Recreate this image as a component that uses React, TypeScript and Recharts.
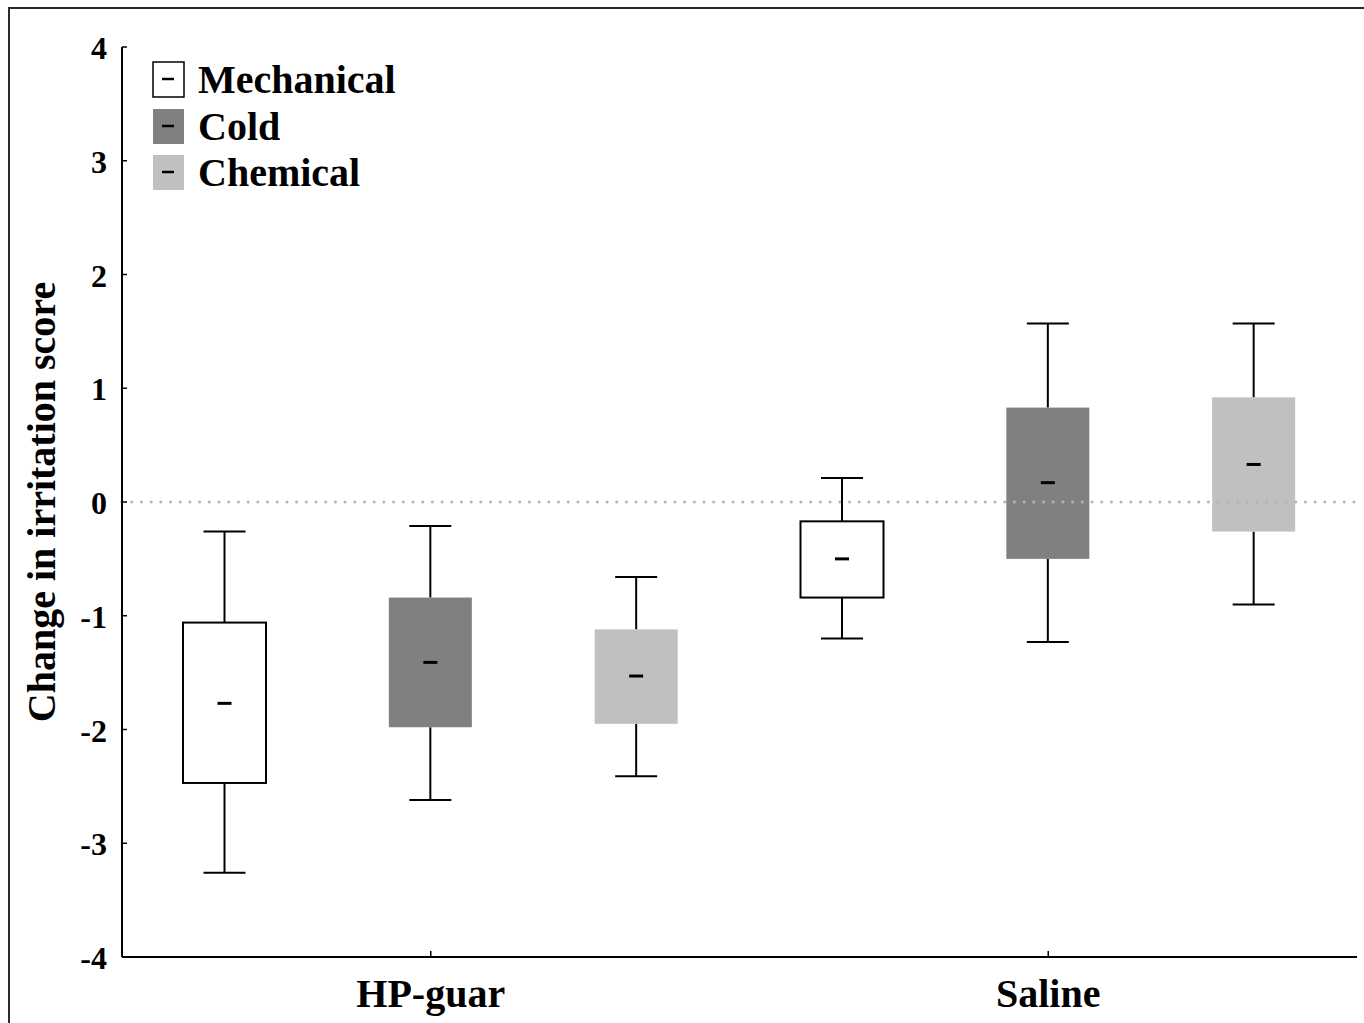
import { ComposedChart, Bar, XAxis, YAxis, ReferenceLine, Legend } from 'recharts'

const groups = ['HP-guar', 'Saline']
const stimuli = ['Mechanical', 'Cold', 'Chemical']
const fills = ['#ffffff', '#808080', '#c0c0c0']
const yTicks = [-4, -3, -2, -1, 0, 1, 2, 3, 4]

// one entry per box, HP-guar first then Saline, Mechanical/Cold/Chemical
const whiskerLow = [-3.26, -2.62, -2.41, -1.2, -1.23, -0.9]
const q1 = [-2.47, -1.98, -1.95, -0.84, -0.5, -0.26]
const mean = [-1.77, -1.41, -1.53, -0.5, 0.17, 0.33]
const q3 = [-1.06, -0.84, -1.12, -0.17, 0.83, 0.92]
const whiskerHigh = [-0.26, -0.21, -0.66, 0.21, 1.57, 1.57]

const FONT = '"Liberation Serif", "Times New Roman", serif'

const data = groups.flatMap((g, gi) =>
  stimuli.map((s, si) => {
    const i = gi * stimuli.length + si
    return {
      key: `${g}|${s}`,
      group: g,
      stim: si,
      box: [q1[i], q3[i]],
      lo: whiskerLow[i],
      hi: whiskerHigh[i],
      q1: q1[i],
      q3: q3[i],
      mean: mean[i],
    }
  })
)

function BoxShape(props: any) {
  const { x, width, payload } = props
  let { y, height } = props
  if (height < 0) {
    y = y + height
    height = -height
  }
  const ppu = height / (payload.q3 - payload.q1)
  const toY = (v: number) => y + (payload.q3 - v) * ppu
  const cx = x + width / 2
  const fill = fills[payload.stim]
  const cap = 21
  return (
    <g>
      <line x1={cx} x2={cx} y1={toY(payload.hi)} y2={y} stroke="#000" strokeWidth={2} />
      <line x1={cx - cap} x2={cx + cap} y1={toY(payload.hi)} y2={toY(payload.hi)} stroke="#000" strokeWidth={2} />
      <line x1={cx} x2={cx} y1={y + height} y2={toY(payload.lo)} stroke="#000" strokeWidth={2} />
      <line x1={cx - cap} x2={cx + cap} y1={toY(payload.lo)} y2={toY(payload.lo)} stroke="#000" strokeWidth={2} />
      <rect
        x={x}
        y={y}
        width={width}
        height={height}
        fill={fill}
        stroke={payload.stim === 0 ? '#000' : 'none'}
        strokeWidth={2}
      />
      <line x1={cx - 7} x2={cx + 7} y1={toY(payload.mean)} y2={toY(payload.mean)} stroke="#000" strokeWidth={3} />
    </g>
  )
}

function YTick({ x, y, payload }: any) {
  return (
    <g>
      <line x1={x} x2={x + 5} y1={y} y2={y} stroke="#000" strokeWidth={1.5} />
      <text x={x - 15} y={y + 12} textAnchor="end" fontFamily={FONT} fontWeight="bold" fontSize={32} fill="#000">
        {payload.value}
      </text>
    </g>
  )
}

function XTick({ x, y, index }: any) {
  // only the middle box of each group carries the group label
  if (index % stimuli.length !== 1) return null
  const label = groups[Math.floor(index / stimuli.length)]
  return (
    <g>
      <line x1={x} x2={x} y1={y} y2={y - 6} stroke="#000" strokeWidth={1.5} />
      <text x={x} y={y + 50} textAnchor="middle" fontFamily={FONT} fontWeight="bold" fontSize={40} fill="#000">
        {label}
      </text>
    </g>
  )
}

function YLabel({ viewBox }: any) {
  const cx = 31
  const cy = viewBox.y + viewBox.height / 2
  return (
    <text
      x={cx}
      y={cy}
      transform={`rotate(-90 ${cx} ${cy})`}
      textAnchor="middle"
      dominantBaseline="central"
      fontFamily={FONT}
      fontWeight="bold"
      fontSize={40}
      fill="#000"
    >
      Change in irritation score
    </text>
  )
}

function LegendBox() {
  return (
    <svg width={340} height={150} style={{ overflow: 'visible' }}>
      {stimuli.map((s, i) => {
        const top = [0, 47, 93][i]
        return (
          <g key={s}>
            <rect
              x={1}
              y={top + 1}
              width={31}
              height={35}
              fill={fills[i]}
              stroke={i === 0 ? '#000' : 'none'}
              strokeWidth={1.5}
            />
            <line x1={10} x2={22} y1={top + 18} y2={top + 18} stroke="#000" strokeWidth={2.5} />
            <text x={46} y={top + 32} fontFamily={FONT} fontWeight="bold" fontSize={40} fill="#000">
              {s}
            </text>
          </g>
        )
      })}
    </svg>
  )
}

export default function App() {
  return (
    <div style={{ position: 'fixed', left: 0, top: 0, width: 1364, height: 1023, overflow: 'hidden', background: '#fff' }}>
      <div
        style={{
          position: 'absolute',
          left: 8,
          top: 7,
          width: 1400,
          height: 1100,
          borderLeft: '2px solid #2a2a2a',
          borderTop: '2px solid #2a2a2a',
        }}
      />
      <div style={{ position: 'absolute', left: 10, top: 9 }}>
        <ComposedChart
          width={1354}
          height={1014}
          data={data}
          margin={{ top: 38, right: 7, left: 0, bottom: 0 }}
        >
          <XAxis
            dataKey="key"
            type="category"
            interval={0}
            height={66}
            tickSize={0}
            tickMargin={0}
            tickLine={false}
            axisLine={{ stroke: '#000', strokeWidth: 2 }}
            tick={<XTick />}
          />
          <YAxis
            type="number"
            domain={[-4, 4]}
            ticks={yTicks}
            width={112}
            tickSize={0}
            tickMargin={0}
            tickLine={false}
            axisLine={{ stroke: '#000', strokeWidth: 2 }}
            tick={<YTick />}
            label={<YLabel />}
          />
          <Bar dataKey="box" barSize={83} shape={<BoxShape />} isAnimationActive={false} />
          <ReferenceLine
            y={0}
            stroke="#b4b4b4"
            strokeWidth={3}
            strokeDasharray="0 9.7"
            strokeLinecap="round"
          />
          <Legend
            layout="vertical"
            align="center"
            verticalAlign="middle"
            wrapperStyle={{ position: 'absolute', left: 142, top: 52, width: 340 }}
            content={() => <LegendBox />}
          />
        </ComposedChart>
      </div>
    </div>
  )
}
